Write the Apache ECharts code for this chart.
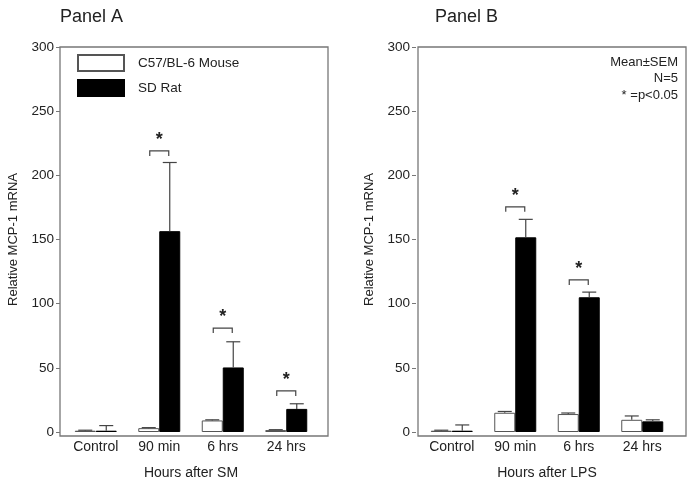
<!DOCTYPE html>
<html><head><meta charset="utf-8">
<script src="https://cdn.jsdelivr.net/npm/echarts@6/dist/echarts.min.js"></script>
<style>html,body{margin:0;padding:0;background:#fff}#c{width:692px;height:485px}</style>
</head><body><div id="c"></div>
<script>
const categories = ['Control', '90 min', '6 hrs', '24 hrs'];
const yTicks = [0, 50, 100, 150, 200, 250, 300];
const seriesNames = ['C57/BL-6 Mouse', 'SD Rat'];
// Panel A (SM)
const mouseSM = [1, 3, 9, 1.5];
const mouseSMErr = [0.4, 0.4, 0.5, 0.3];
const ratSM = [1, 156.5, 50.3, 18];
const ratSMErr = [4, 53.5, 20, 4];
const sigSM = [null, 219, 81, 32];
// Panel B (LPS)
const mouseLPS = [1, 15, 14, 9.5];
const mouseLPSErr = [0.4, 1, 0.8, 3];
const ratLPS = [1, 151.7, 105, 8.3];
const ratLPSErr = [4.5, 14, 4, 1.2];
const sigLPS = [null, 175.5, 118.5, null];
const noteLines = ['Mean±SEM', 'N=5', '* =p<0.05'];

const BW = 21;
const TXT = '#222';
const AX = '#777';
const FONT = 'Liberation Sans, Arial, sans-serif';

function errSeries(xi, vals, errs, side) {
  return {
    type: 'custom', xAxisIndex: xi, yAxisIndex: xi, z: 5, silent: true,
    data: vals.map((v, i) => [i, v, errs[i]]),
    renderItem: function (params, api) {
      const c = api.coord([api.value(0), api.value(1)]);
      const t = api.coord([api.value(0), api.value(1) + api.value(2)]);
      const x = c[0] + side * BW / 2;
      return {
        type: 'group', children: [
          { type: 'line', shape: { x1: x, y1: c[1], x2: x, y2: t[1] }, style: { stroke: '#444', lineWidth: 1.2 } },
          { type: 'line', shape: { x1: x - 7, y1: t[1], x2: x + 7, y2: t[1] }, style: { stroke: '#444', lineWidth: 1.2 } }
        ]
      };
    }
  };
}
function sigSeries(xi, levels) {
  return {
    type: 'custom', xAxisIndex: xi, yAxisIndex: xi, z: 6, silent: true,
    data: levels.map((v, i) => [i, v]).filter(d => d[1] !== null),
    renderItem: function (params, api) {
      const p = api.coord([api.value(0), api.value(1)]);
      const x1 = p[0] - BW / 2 + 1, x2 = p[0] + BW / 2 - 1, y = p[1];
      return {
        type: 'group', children: [
          { type: 'polyline', shape: { points: [[x1, y + 5], [x1, y], [x2, y], [x2, y + 5]] }, style: { stroke: '#444', lineWidth: 1.2, fill: null } },
          { type: 'text', style: { text: '*', x: p[0], y: y - 2, align: 'center', verticalAlign: 'bottom', font: 'bold 18px ' + FONT, fill: TXT } }
        ]
      };
    }
  };
}
function barSeries(xi, name, vals, white) {
  return {
    type: 'bar', name: name, xAxisIndex: xi, yAxisIndex: xi, data: vals, barWidth: BW, barGap: '0%',
    itemStyle: white ? { color: '#fff', borderColor: '#555', borderWidth: 1 } : { color: '#000', borderColor: '#000', borderWidth: 1 },
    emphasis: { disabled: true }, silent: true
  };
}
function xAxis(gi, name) {
  return {
    type: 'category', gridIndex: gi, data: categories, name: name, nameLocation: 'middle', nameGap: 34,
    nameTextStyle: { fontSize: 14, color: TXT, fontFamily: FONT },
    axisLine: { show: false }, axisTick: { show: false },
    axisLabel: { fontSize: 14, color: TXT, margin: 8, fontFamily: FONT, interval: 0 }
  };
}
function yAxis(gi) {
  return {
    type: 'value', gridIndex: gi, min: 0, max: 300, interval: 50, offset: 4,
    name: 'Relative MCP-1 mRNA', nameLocation: 'middle', nameGap: 40,
    nameTextStyle: { fontSize: 13, color: TXT, fontFamily: FONT },
    axisLine: { show: false }, splitLine: { show: false },
    axisTick: { show: true, length: 4, lineStyle: { color: AX } },
    axisLabel: { fontSize: 13.5, color: TXT, margin: 6, fontFamily: FONT }
  };
}
const chart = echarts.init(document.getElementById('c'), null, { renderer: 'canvas' });
chart.setOption({
  backgroundColor: '#fff',
  animation: false,
  grid: [
    { left: 64, top: 47, width: 254, height: 389 },
    { left: 420, top: 47, width: 254, height: 389 }
  ],
  xAxis: [xAxis(0, 'Hours after SM'), xAxis(1, 'Hours after LPS')],
  yAxis: [yAxis(0), yAxis(1)],
  legend: {
    left: 77, top: 54, padding: 0, orient: 'vertical', itemWidth: 46, itemHeight: 16, itemGap: 7, icon: 'rect',
    data: seriesNames, selectedMode: false,
    textStyle: { fontSize: 13.5, color: TXT, fontFamily: FONT, padding: [0, 0, 0, 9] }
  },
  graphic: [
    { type: 'rect', shape: { x: 60, y: 47, width: 268, height: 389 }, style: { fill: null, stroke: AX, lineWidth: 1.3 }, z: 10, silent: true },
    { type: 'rect', shape: { x: 418, y: 47, width: 268, height: 389 }, style: { fill: null, stroke: AX, lineWidth: 1.3 }, z: 10, silent: true },
    { type: 'text', x: 60, y: 8, style: { text: 'Panel A', font: '18px ' + FONT, fill: TXT } },
    { type: 'text', x: 435, y: 8, style: { text: 'Panel B', font: '18px ' + FONT, fill: TXT } }
  ].concat(noteLines.map((s, i) => ({
    type: 'text', x: 678, y: 62 + i * 16.5, style: { text: s, font: '13px ' + FONT, fill: TXT, align: 'right', verticalAlign: 'middle' }
  }))),
  series: [
    barSeries(0, seriesNames[0], mouseSM, true),
    barSeries(0, seriesNames[1], ratSM, false),
    errSeries(0, mouseSM, mouseSMErr, -1),
    errSeries(0, ratSM, ratSMErr, 1),
    sigSeries(0, sigSM),
    barSeries(1, seriesNames[0], mouseLPS, true),
    barSeries(1, seriesNames[1], ratLPS, false),
    errSeries(1, mouseLPS, mouseLPSErr, -1),
    errSeries(1, ratLPS, ratLPSErr, 1),
    sigSeries(1, sigLPS)
  ]
});
</script></body></html>
